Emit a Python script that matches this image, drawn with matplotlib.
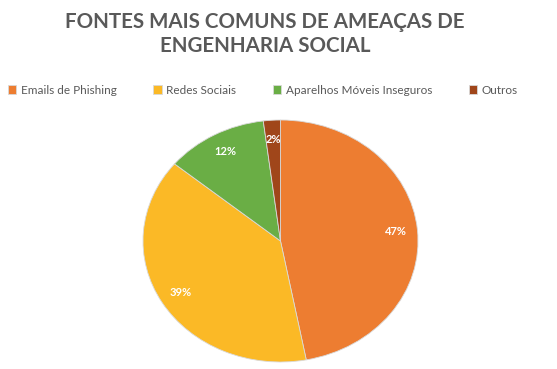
import matplotlib

matplotlib.use("Agg")
import matplotlib.pyplot as plt  # noqa: E402

labels = ["Emails de Phishing", "Redes Sociais", "Aparelhos Móveis Inseguros", "Outros"]
values = [47, 39, 12, 2]
colors = ["#ED7D31", "#FBB926", "#6AAE45", "#A0461A"]

plt.rcParams["font.family"] = ["Lato", "DejaVu Sans"]

W, H = 557, 369
fig = plt.figure(figsize=(W / 100, H / 100), dpi=100)
fig.patch.set_facecolor("white")

# pie is drawn slightly stretched horizontally, like the reference
ax = fig.add_axes([143 / W, 7 / H, 275 / W, 242 / H])
wedges, texts, autotexts = ax.pie(
    values,
    colors=colors,
    startangle=90,
    counterclock=False,
    autopct="%d%%",
    pctdistance=0.84,
    wedgeprops=dict(edgecolor="#d9d9d9", linewidth=0.6),
    textprops=dict(color="white", fontsize=8, fontweight="bold"),
)
ax.set_aspect("auto")
ax.set_xlim(-1.0, 1.0)
ax.set_ylim(-1.0, 1.0)

fig.text(265 / W, 1 - 34 / H, "FONTES MAIS COMUNS DE AMEAÇAS DE\nENGENHARIA SOCIAL",
         ha="center", va="center", fontsize=14.8, fontweight="bold",
         color="#595959", linespacing=1.25)

fig.legend(wedges, labels, loc="center", bbox_to_anchor=(263 / W, 1 - 90 / H),
           ncol=4, frameon=False, fontsize=8.5, labelcolor="#595959",
           handlelength=0.7, handleheight=0.7, handletextpad=0.4,
           columnspacing=3.1)

fig.savefig("out.png", dpi=100)
plt.close(fig)
